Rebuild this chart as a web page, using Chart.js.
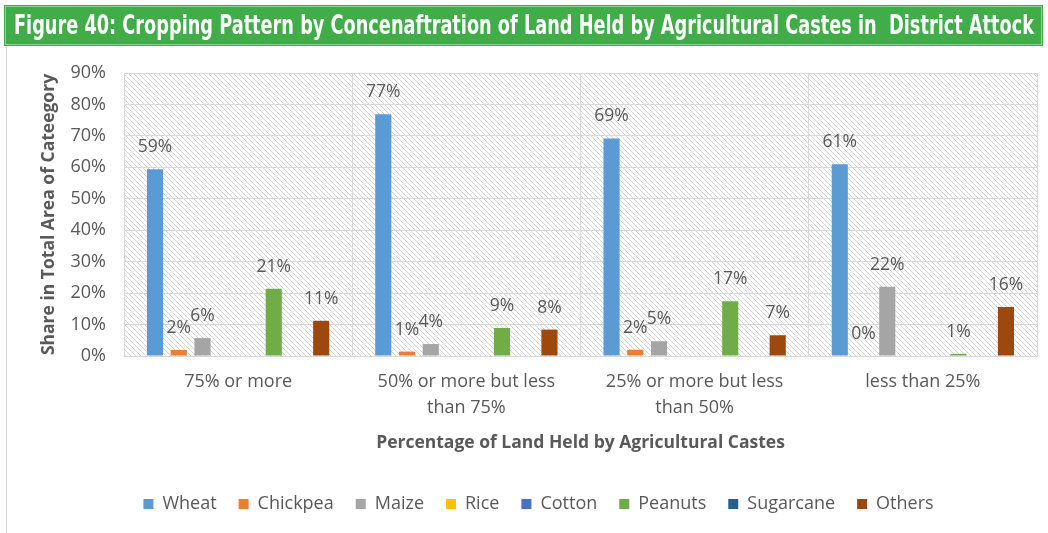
<!DOCTYPE html>
<html>
<head>
<meta charset="utf-8">
<script src="https://cdn.jsdelivr.net/npm/chart.js@4/dist/chart.umd.min.js"></script>
<style>
  html, body { margin: 0; padding: 0; background: #fff; }
  #wrap { position: relative; width: 1048px; height: 533px; overflow: hidden; }
  #banner {
    position: absolute; left: 5px; top: 6px; width: 1035px; height: 37px;
    background: #41ad49; border: 1px solid #8fd093; box-shadow: 0 0 0 1px #41ad49;
  }
  #banner span {
    position: absolute; left: 8px; top: 2px; white-space: pre; color: #fff;
    font-family: 'Liberation Sans Narrow', 'DejaVu Sans Condensed', sans-serif;
    font-weight: bold; font-size: 27px; line-height: 32px; transform-origin: 0 50%;
  }
  #frame { position: absolute; left: 6px; top: 46px; width: 0; height: 487px; border-left: 1px solid #d9d9d9; }
  #chart { position: absolute; left: 0; top: 0; }
</style>
</head>
<body>
<div id="wrap">
  <canvas id="chart" width="1048" height="533"></canvas>
  <div id="frame"></div>
  <div id="banner"><span id="title">Figure 40: Cropping Pattern by Concenaftration of Land Held by Agricultural Castes in  District Attock</span></div>
</div>
<script>
// Land-concentration groups on the x axis
const categories = [
  '75% or more',
  ['50% or more but less', 'than 75%'],
  ['25% or more but less', 'than 50%'],
  'less than 25%'
];

// Share of each crop in the total cropped area (%)
const wheat     = [59.4, 76.9, 69.2, 61.0];
const chickpea  = [1.9, 1.4, 2.0, 0];
const maize     = [5.7, 3.8, 4.7, 22.0];
const rice      = [null, null, null, null];
const cotton    = [null, null, null, null];
const peanuts   = [21.4, 8.9, 17.4, 0.7];
const sugarcane = [null, null, null, null];
const others    = [11.2, 8.4, 6.6, 15.6];

const yTicks = [0, 10, 20, 30, 40, 50, 60, 70, 80, 90];

const seriesNames  = ['Wheat', 'Chickpea', 'Maize', 'Rice', 'Cotton', 'Peanuts', 'Sugarcane', 'Others'];
const seriesData   = [wheat, chickpea, maize, rice, cotton, peanuts, sugarcane, others];
const seriesColors = ['#5b9bd5', '#ed7d31', '#a5a5a5', '#ffc000', '#4472c4', '#70ad47', '#255e91', '#9e480e'];

const textGray = '#595959';
const gridGray = '#d9d9d9';
const baseFont = "'Open Sans', 'Noto Sans', sans-serif";

// fit the banner title to its bar
(function () {
  const t = document.getElementById('title');
  const w = t.getBoundingClientRect().width;
  t.style.transform = 'scaleX(' + (1020 / w) + ')';
})();

// diagonal hatch fill behind the plot
function makeHatch() {
  const s = 5;
  const c = document.createElement('canvas');
  c.width = s; c.height = s;
  const g = c.getContext('2d');
  g.strokeStyle = '#d4d4d4';
  g.lineWidth = 1;
  for (const k of [-s, 0, s]) {
    g.beginPath();
    g.moveTo(k, 0);
    g.lineTo(k + s, s);
    g.stroke();
  }
  return c;
}

const hatchPlugin = {
  id: 'hatch',
  beforeDraw(chart) {
    const { ctx, chartArea: a } = chart;
    ctx.save();
    ctx.fillStyle = ctx.createPattern(makeHatch(), 'repeat');
    ctx.fillRect(a.left, a.top, a.right - a.left, a.bottom - a.top);
    ctx.restore();
  }
};

const valueLabels = {
  id: 'valueLabels',
  afterDatasetsDraw(chart) {
    const ctx = chart.ctx;
    ctx.save();
    ctx.font = '17.5px ' + baseFont;
    ctx.fillStyle = textGray;
    ctx.textAlign = 'center';
    ctx.textBaseline = 'middle';
    chart.data.datasets.forEach((ds, i) => {
      const meta = chart.getDatasetMeta(i);
      meta.data.forEach((bar, j) => {
        const v = ds.data[j];
        if (v === null || v === undefined) return;
        ctx.fillText(Math.round(v) + '%', bar.x, bar.y - 22);
      });
    });
    ctx.restore();
  }
};

new Chart(document.getElementById('chart'), {
  type: 'bar',
  data: {
    labels: categories,
    datasets: seriesNames.map((name, i) => ({
      label: name,
      data: seriesData[i],
      backgroundColor: seriesColors[i],
      borderWidth: 0,
      categoryPercentage: 0.832,
      barPercentage: 0.68
    }))
  },
  options: {
    responsive: false,
    animation: false,
    layout: { padding: { left: 40, right: 11, top: 73, bottom: 10 } },
    plugins: {
      tooltip: { enabled: false },
      legend: {
        position: 'bottom',
        labels: {
          boxWidth: 10, boxHeight: 10, padding: 22,
          color: textGray,
          font: { family: baseFont, size: 18 }
        }
      }
    },
    scales: {
      x: {
        afterFit(s) { s.height = 117; },
        grid: { color: gridGray, lineWidth: 1, drawTicks: false, offset: true },
        border: { color: gridGray },
        ticks: {
          color: textGray, padding: 13, maxRotation: 0, autoSkip: false,
          font: { family: baseFont, size: 18, lineHeight: 1.45 }
        },
        title: {
          display: true, text: 'Percentage of Land Held by Agricultural Castes',
          color: textGray, padding: { top: 0, bottom: 19 },
          font: { family: baseFont, size: 17.5, weight: 'bold', lineHeight: 1.2 }
        }
      },
      y: {
        min: 0, max: 90,
        afterFit(s) { s.width = 84; },
        afterBuildTicks(s) { s.ticks = yTicks.map(v => ({ value: v })); },
        grid: { color: gridGray, lineWidth: 1, drawTicks: false },
        border: { display: false },
        ticks: {
          color: textGray, padding: 18,
          font: { family: baseFont, size: 18 },
          callback: v => v + '%'
        },
        title: {
          display: true, text: 'Share in Total Area of Cateegory',
          color: textGray, padding: 0,
          font: { family: baseFont, size: 17.5, weight: 'bold', lineHeight: 1 }
        }
      }
    }
  },
  plugins: [hatchPlugin, valueLabels]
});
</script>
</body>
</html>
